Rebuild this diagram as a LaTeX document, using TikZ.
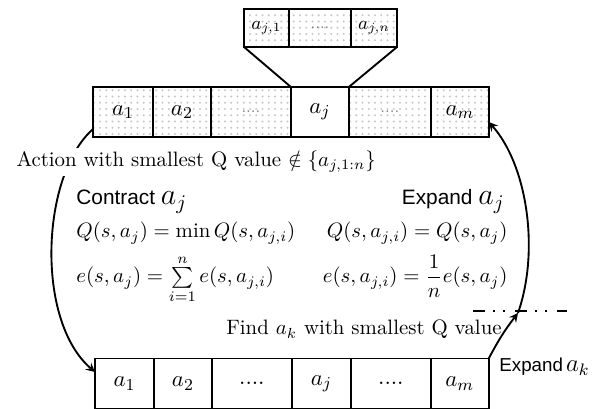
\documentclass[tikz,border=0pt]{standalone}
\usepackage{fontspec}
\setsansfont{Liberation Sans}
\usetikzlibrary{positioning,patterns}
\begin{document}
\begin{tikzpicture}[>=stealth,x=0.48pt,y=-0.48pt,
  cell/.style={draw,line width=0.9pt,inner sep=0pt,outer sep=0pt,minimum height=24pt,font=\fontsize{10.95}{13}\selectfont},
  dotcell/.style={cell,pattern=dots,pattern color=black!22},
  eq/.style={inner sep=0pt}]
\useasboundingbox (0,0) rectangle (600,409);
% top row
\node[dotcell,minimum width=28.8pt,anchor=west](t1) at (93,112){$a_1$};
\node[dotcell,minimum width=27.8pt,right=0pt of t1](t2){$a_2$};
\node[dotcell,minimum width=38.4pt,right=0pt of t2](t3){\scriptsize\color{black!55}....};
\node[cell,minimum width=27.8pt,right=0pt of t3](t4){$a_j$};
\node[dotcell,minimum width=39.4pt,right=0pt of t4](t5){\scriptsize\color{black!55}....};
\node[dotcell,minimum width=27.8pt,right=0pt of t5](t6){$a_m$};
% sub-actions of a_j
\node[dotcell,minimum width=29.8pt,minimum height=18.2pt](s2) at (320,28){\scriptsize\color{black!55}....};
\node[dotcell,minimum width=21.6pt,minimum height=18.2pt,left=0pt of s2,font=\small](s1){$a_{j,1}$};
\node[dotcell,minimum width=22.1pt,minimum height=18.2pt,right=0pt of s2,font=\small](s3){$a_{j,n}$};
\draw[line width=0.9pt](s1.south west)--(t4.north west);
\draw[line width=0.9pt](s3.south east)--(t4.north east);
% bottom row
\node[cell,minimum width=28.3pt,anchor=west](b1) at (95,383.5){$a_1$};
\node[cell,minimum width=27.8pt,right=0pt of b1](b2){$a_2$};
\node[cell,minimum width=38.4pt,right=0pt of b2](b3){....};
\node[cell,minimum width=28.3pt,right=0pt of b3](b4){$a_j$};
\node[cell,minimum width=38.4pt,right=0pt of b4](b5){....};
\node[cell,minimum width=27.8pt,right=0pt of b5](b6){$a_m$};
% arrows
\draw[->,line width=0.9pt]([yshift=3.8pt]t1.south west)..controls +(-52,46) and +(-60,-52)..([yshift=5.5pt]b1.west);
\coordinate(cut) at (518,313);
\draw[->,line width=0.9pt](b6.north east) to[bend left=5] (cut);
\draw[->,line width=0.9pt](cut)..controls +(22,-63) and +(38,43)..([yshift=-4.8pt]t6.east);
\coordinate(d1) at (473,311);
\coordinate(d2) at (567,311);
\draw[line width=1.1pt,dash pattern=on 5.8pt off 3.8pt on 1pt off 3.8pt on 1pt off 4.8pt](d1)--(d2);
% texts
\node[fill=white,inner sep=1.5pt,anchor=west](act) at (13,162){Action with smallest Q value $\notin\{a_{j,1:n}\}$};
\node[inner sep=0pt,anchor=base west](con) at (76,205){\sffamily Contract {\Large$a_j$}};
\node[inner sep=0pt,anchor=base east](exp) at (505,205){\sffamily Expand {\Large$a_j$}};
\node[eq,anchor=base west](q1) at (76,238){$Q(s,a_j)=\min Q(s,a_{j,i})$};
\node[eq,anchor=base west](e1) at (76,283){$e(s,a_j)=\sum\limits_{i=1}^{n}e(s,a_{j,i})$};
\node[eq,anchor=base east](q2) at (508,238){$Q(s,a_{j,i})=Q(s,a_j)$};
\node[eq,anchor=base east](e2) at (508,283){$e(s,a_{j,i})={\displaystyle\frac{1}{n}}e(s,a_j)$};
\node[inner sep=0pt,anchor=base east](find) at (502,335){Find $a_k$ with smallest Q value};
\node[inner sep=0pt,anchor=base west](expk) at (499,372){\sffamily\small Expand\,{\large$a_k$}};
\end{tikzpicture}
\end{document}
